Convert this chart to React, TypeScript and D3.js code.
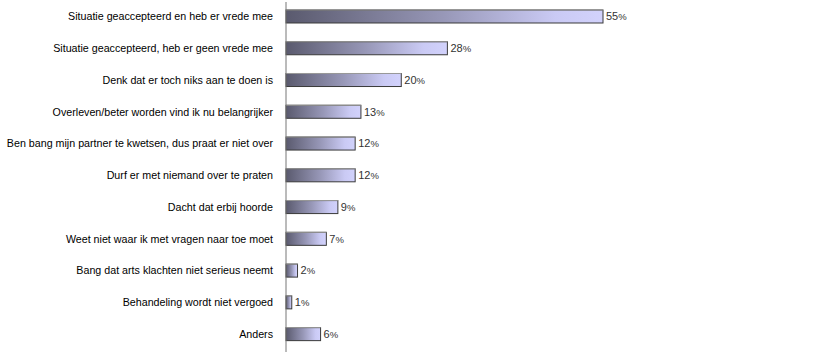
import React from "react";
import * as d3 from "d3";

const categories = [
  "Situatie geaccepteerd en heb er vrede mee",
  "Situatie geaccepteerd, heb er geen vrede mee",
  "Denk dat er toch niks aan te doen is",
  "Overleven/beter worden vind ik nu belangrijker",
  "Ben bang mijn partner te kwetsen, dus praat er niet over",
  "Durf er met niemand over te praten",
  "Dacht dat erbij hoorde",
  "Weet niet waar ik met vragen naar toe moet",
  "Bang dat arts klachten niet serieus neemt",
  "Behandeling wordt niet vergoed",
  "Anders",
];
const values = [55, 28, 20, 13, 12, 12, 9, 7, 2, 1, 6];

const W = 825;
const H = 353;
const axisX = 286;

export default function App() {
  const x = d3.scaleLinear().domain([0, 55]).range([axisX, 603]);
  const y = d3
    .scaleBand<string>()
    .domain(categories)
    .range([0.6, 350])
    .paddingInner(0.59)
    .paddingOuter(0.295);
  const bh = y.bandwidth();
  return (
    <svg
      width={W}
      height={H}
      style={{ position: "absolute", left: 0, top: 0, background: "#fff" }}
      fontFamily="'Liberation Sans', Arial, sans-serif"
    >
      <defs>
        <linearGradient id="barGrad" x1="0" x2="1" y1="0" y2="0">
          <stop offset="0%" stopColor="#5a5a6e" />
          <stop offset="50%" stopColor="#9898b8" />
          <stop offset="85%" stopColor="#cacaf4" />
          <stop offset="100%" stopColor="#d2d2fc" />
        </linearGradient>
      </defs>
      {categories.map((c, i) => {
        const y0 = y(c)!;
        const x1 = x(values[i]);
        const cy = y0 + bh / 2;
        return (
          <g key={c}>
            <rect
              x={axisX}
              y={y0}
              width={x1 - axisX}
              height={bh}
              fill="url(#barGrad)"
              stroke="#3a3a3a"
              strokeWidth={1}
            />
            <line x1={axisX} x2={x1} y1={y0} y2={y0} stroke="#9a9a9a" strokeWidth={1} />
            <text
              x={273}
              y={cy}
              dy="0.35em"
              textAnchor="end"
              fontSize={10.7}
              fill="#000"
            >
              {c}
            </text>
            <text x={x1 + 3} y={cy} dy="0.35em" fontSize={11} fill="#333">
              {values[i]}
              <tspan fontSize={9.5}>%</tspan>
            </text>
          </g>
        );
      })}
      <line x1={axisX} x2={axisX} y1={2} y2={352} stroke="#777" strokeWidth={1} />
    </svg>
  );
}
